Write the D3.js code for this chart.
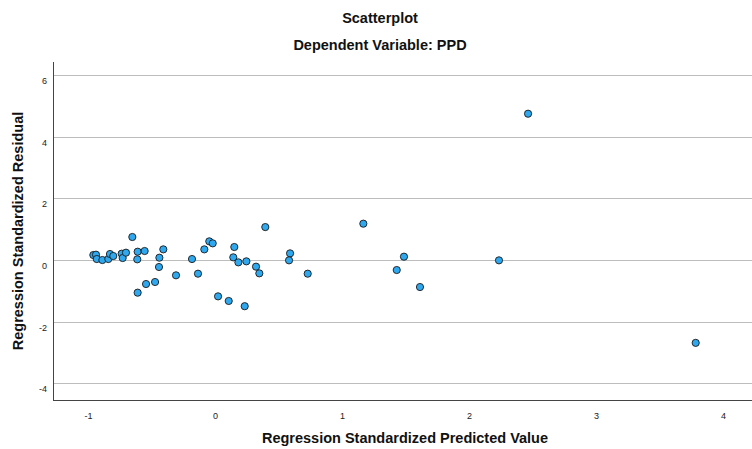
<!DOCTYPE html>
<html>
<head>
<meta charset="utf-8">
<script src="https://cdn.jsdelivr.net/npm/d3@7"></script>
<style>
  html, body { margin: 0; padding: 0; background: #fff; }
  svg { display: block; font-family: "Liberation Sans", Arial, sans-serif; }
</style>
</head>
<body>
<svg id="chart" width="752" height="449"></svg>
<script>
// Standardized predicted values (x) and standardized residuals (y)
const predicted = [
  -0.958, -0.937, -0.931, -0.887, -0.840, -0.827, -0.801, -0.735, -0.727, -0.701,
  -0.651, -0.609, -0.612, -0.554, -0.438, -0.407, -0.441, -0.609, -0.543, -0.472,
  -0.307, -0.134, -0.181, -0.084, -0.045, -0.018, 0.024, 0.108, 0.234, 0.152,
  0.144, 0.184, 0.247, 0.323, 0.349, 0.396, 0.591, 0.583, 0.730, 1.168,
  1.488, 1.431, 1.614, 2.236, 2.465, 3.785
];
const residual = [
  0.162, 0.173, 0.032, 0.000, 0.032, 0.195, 0.130, 0.205, 0.065, 0.238,
  0.747, 0.270, 0.022, 0.292, 0.075, 0.346, -0.227, -1.060, -0.779, -0.714,
  -0.497, -0.444, 0.032, 0.346, 0.606, 0.541, -1.180, -1.330, -1.500, 0.422,
  0.087, -0.076, -0.043, -0.216, -0.433, 1.070, 0.216, -0.011, -0.444, 1.180,
  0.108, -0.325, -0.877, -0.011, 4.750, -2.690
];
const xTicks = [-1, 0, 1, 2, 3, 4];
const yTicks = [-4, -2, 0, 2, 4, 6];

const svg = d3.select("#chart");
const plotL = 53, plotR = 760, plotT = 62, plotB = 400;
const fontStack = "'Liberation Sans', Arial, sans-serif";

const x = d3.scaleLinear().domain([-1.2756, 4.2913]).range([plotL, plotR]);
const y = d3.scaleLinear().domain([-4.545, 6.429]).range([plotB, plotT]);

// Titles
svg.append("text").attr("x", 380).attr("y", 23).attr("text-anchor", "middle")
  .attr("font-size", 14.5).attr("font-weight", "bold").attr("fill", "#111").text("Scatterplot");
svg.append("text").attr("x", 380).attr("y", 50).attr("text-anchor", "middle")
  .attr("font-size", 14.5).attr("font-weight", "bold").attr("fill", "#111").text("Dependent Variable: PPD");

// Horizontal gridlines
svg.append("g").selectAll("line").data(yTicks).join("line")
  .attr("x1", plotL).attr("x2", plotR)
  .attr("y1", d => Math.round(y(d)) + 0.5).attr("y2", d => Math.round(y(d)) + 0.5)
  .attr("stroke", "#bdbdbd").attr("stroke-width", 1);

// Axes
const yAxis = svg.append("g").attr("transform", `translate(${plotL},0)`)
  .call(d3.axisLeft(y).tickValues(yTicks).tickSize(0).tickPadding(6).tickFormat(d => String(d)));
yAxis.select(".domain").remove();
yAxis.selectAll("text").attr("font-size", 9).attr("fill", "#222")
  .attr("font-family", fontStack).attr("dy", "0.95em");

const xAxis = svg.append("g").attr("transform", `translate(0,${plotB})`)
  .call(d3.axisBottom(x).tickValues(xTicks).tickSize(0).tickPadding(13).tickFormat(d => String(d)));
xAxis.select(".domain").remove();
xAxis.selectAll("text").attr("font-size", 9).attr("fill", "#222")
  .attr("font-family", fontStack);

svg.append("line").attr("x1", plotL + 0.5).attr("x2", plotL + 0.5).attr("y1", plotT).attr("y2", plotB + 0.5)
  .attr("stroke", "#444").attr("stroke-width", 1);
svg.append("line").attr("x1", plotL).attr("x2", plotR).attr("y1", plotB + 0.5).attr("y2", plotB + 0.5)
  .attr("stroke", "#444").attr("stroke-width", 1);

// Axis titles
svg.append("text").attr("x", 405).attr("y", 442.5).attr("text-anchor", "middle")
  .attr("font-size", 14.5).attr("font-weight", "bold").attr("fill", "#111")
  .text("Regression Standardized Predicted Value");
svg.append("text").attr("transform", `translate(23,231) rotate(-90)`)
  .attr("text-anchor", "middle").attr("font-size", 14.5).attr("font-weight", "bold").attr("fill", "#111")
  .text("Regression Standardized Residual");

// Points
svg.append("g").selectAll("circle").data(predicted.map((p, i) => [p, residual[i]])).join("circle")
  .attr("cx", d => x(d[0])).attr("cy", d => y(d[1])).attr("r", 3.6)
  .attr("fill", "#2ea8ef").attr("stroke", "#1a1a1a").attr("stroke-width", 0.9);
</script>
</body>
</html>
